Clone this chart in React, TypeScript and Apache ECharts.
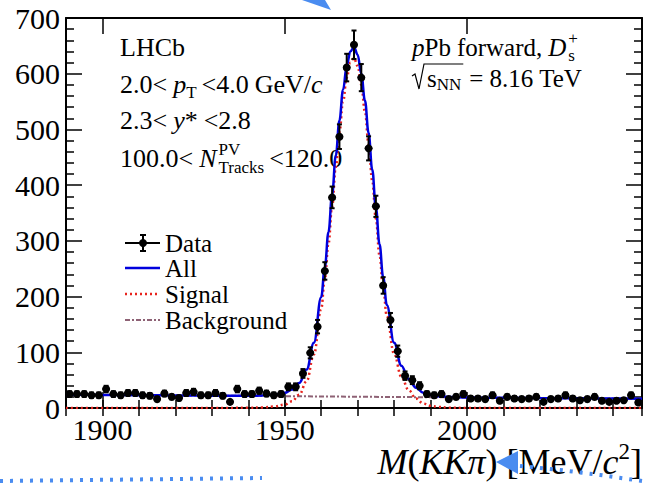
import React, { useEffect, useRef } from "react";
import * as echarts from "echarts";

const FONT = "'Liberation Serif','Times New Roman',Times,serif";

// Bin centres (2 MeV bins) and observed counts
const BIN_CENTERS = [
  1891, 1893, 1895, 1897, 1899, 1901, 1903, 1905, 1907, 1909, 1911, 1913, 1915, 1917, 1919, 1921,
  1923, 1925, 1927, 1929, 1931, 1933, 1935, 1937, 1939, 1941, 1943, 1945, 1947, 1949, 1951, 1953,
  1955, 1957, 1959, 1961, 1963, 1965, 1967, 1969, 1971, 1973, 1975, 1977, 1979, 1981, 1983, 1985,
  1987, 1989, 1991, 1993, 1995, 1997, 1999, 2001, 2003, 2005, 2007, 2009, 2011, 2013, 2015, 2017,
  2019, 2021, 2023, 2025, 2027, 2029, 2031, 2033, 2035, 2037, 2039, 2041, 2043, 2045, 2047,
];
const COUNTS = [
  25, 25, 25, 23, 23, 34, 25, 23, 27, 27, 23, 22, 16, 26, 20, 18,
  27, 29, 23, 23, 27, 22, 11, 34, 25, 25, 31, 26, 23, 25, 38, 38,
  62, 99, 146, 246, 378, 487, 611, 652, 593, 466, 362, 220, 158, 102, 58, 50,
  40, 25, 23, 25, 16, 20, 25, 17, 17, 16, 23, 13, 20, 17, 16, 17,
  20, 11, 16, 17, 23, 17, 14, 16, 20, 13, 11, 13, 14, 23, 10,
];

// Fit curves
const CURVE_X = [
  1890, 1900, 1910, 1920, 1930, 1940, 1944, 1947, 1950, 1952, 1954, 1956, 1958, 1960, 1961, 1962,
  1963, 1964, 1965, 1966, 1967, 1968, 1969, 1970, 1971, 1972, 1973, 1974, 1975, 1976, 1977, 1978,
  1980, 1982, 1984, 1986, 1988, 1990, 1992, 1995, 2000, 2010, 2020, 2030, 2040, 2048,
];
const ALL_Y = [
  24, 23.5, 23, 22.6, 22.1, 22, 22.4, 23.8, 27.2, 33.1, 45, 69, 117, 199, 253, 316,
  383, 453, 516, 571, 614, 640, 648, 634, 600, 552, 494, 428, 360, 294, 235, 185,
  117, 76, 52, 36.5, 27.4, 23.2, 21.1, 19.9, 18.8, 18.3, 17.8, 17.4, 16.9, 16.5,
];
const SIGNAL_Y = [
  0, 0, 0, 0, 0, 0.3, 1, 2.5, 6, 12, 24, 48, 96, 178, 232, 295,
  362, 432, 495, 550, 593, 620, 628, 614, 580, 532, 474, 408, 340, 274, 215, 165,
  97, 56, 32, 17, 8, 4, 2, 0.6, 0, 0, 0, 0, 0, 0,
];
const BKG_X = [1890, 1950, 2000, 2048];
const BKG_Y = [24, 21.2, 18.8, 16.5];

const X_MAJOR = [1900, 1950, 2000];
const LEGEND_LABELS = ["Data", "All", "Signal", "Background"];

const BLUE = "#0000dd";
const RED = "#e8231d";
const BROWN = "#8e6275";
const ART = "#4a8cf0";

let _ctx: CanvasRenderingContext2D | null = null;
function tw(t: string, sz: number, it?: boolean) {
  if (!_ctx) _ctx = document.createElement("canvas").getContext("2d");
  _ctx!.font = `${it ? "italic " : ""}${sz}px ${FONT}`;
  return _ctx!.measureText(t).width;
}

function txt(x: number, y: number, t: string, sz: number, it?: boolean) {
  return {
    type: "text",
    x,
    y,
    silent: true,
    style: {
      text: t,
      fontFamily: FONT,
      fontSize: sz,
      fontStyle: it ? "italic" : "normal",
      fill: "#000",
      align: "left",
      verticalAlign: "middle",
    },
  };
}

function layout(x0: number, y: number, segs: any[], size: number, alignRight = false) {
  const widths = segs.map((s) => {
    if (s.g !== undefined) return s.g;
    if (s.sup !== undefined) return Math.max(tw(s.sup, s.sz), tw(s.sub, s.sz));
    return tw(s.t, s.sz || size, s.it);
  });
  const total = widths.reduce((a, b) => a + b, 0);
  let x = alignRight ? x0 - total : x0;
  const els: any[] = [];
  segs.forEach((s, i) => {
    if (s.sup !== undefined) {
      els.push(txt(x, y + s.up, s.sup, s.sz));
      els.push(txt(x, y + s.down, s.sub, s.sz));
    } else if (s.t !== undefined) {
      els.push(txt(x, y + (s.dy || 0), s.t, s.sz || size, s.it));
    }
    x += widths[i];
  });
  return { els, end: x };
}

export default function App() {
  const ref = useRef<HTMLDivElement>(null);
  useEffect(() => {
    const chart = echarts.init(ref.current!, null, { renderer: "svg" });

    const S = 26;
    const l1 = layout(120, 47, [{ t: "LHCb" }], S);
    const l2 = layout(120, 84, [
      { t: "2.0<" }, { g: 6 }, { t: "p", it: true }, { t: "T", sz: 17, dy: 8 }, { g: 5 },
      { t: "<4.0" }, { g: 6 }, { t: "GeV/" }, { t: "c", it: true },
    ], S);
    const l3 = layout(120, 120, [
      { t: "2.3<" }, { g: 6 }, { t: "y", it: true }, { t: "*" }, { g: 6 }, { t: "<2.8" },
    ], S);
    const l4 = layout(120, 158, [
      { t: "100.0<" }, { g: 6 }, { t: "N", it: true }, { g: 2 },
      { sup: "PV", sub: "Tracks", sz: 17, up: -9, down: 9 }, { g: 5 }, { t: "<120.0" },
    ], S);
    const r1 = layout(412, 47, [
      { t: "p", it: true }, { t: "Pb" }, { g: 6 }, { t: "forward," }, { g: 6 },
      { t: "D", it: true }, { g: 2 }, { sup: "+", sub: "s", sz: 17, up: -9, down: 8 },
    ], 25);
    const r2 = layout(427, 78, [
      { t: "s" }, { t: "NN", sz: 17, dy: 6 }, { g: 8 }, { t: "=" }, { g: 6 }, { t: "8.16" }, { g: 6 }, { t: "TeV" },
    ], 25);
    const nnEnd = 427 + tw("s", 25) + tw("NN", 17) + 2;
    const title = layout(642, 462, [
      { t: "M", it: true }, { t: "(" }, { t: "K", it: true }, { t: "K", it: true }, { t: "π", it: true },
      { t: ")" }, { g: 9 }, { t: "[MeV/" }, { t: "c", it: true }, { t: "2", sz: 23, dy: -11 }, { t: "]" },
    ], 36, true);

    const legY = [243, 268, 294, 320];
    const legendEls: any[] = [
      { type: "line", shape: { x1: 125, y1: legY[0], x2: 160, y2: legY[0] }, style: { stroke: "#000", lineWidth: 2 } },
      { type: "line", shape: { x1: 143, y1: legY[0] - 8, x2: 143, y2: legY[0] + 8 }, style: { stroke: "#000", lineWidth: 2 } },
      { type: "line", shape: { x1: 140, y1: legY[0] - 8, x2: 146, y2: legY[0] - 8 }, style: { stroke: "#000", lineWidth: 2 } },
      { type: "line", shape: { x1: 140, y1: legY[0] + 8, x2: 146, y2: legY[0] + 8 }, style: { stroke: "#000", lineWidth: 2 } },
      { type: "circle", shape: { cx: 143, cy: legY[0], r: 4 }, style: { fill: "#000" } },
      { type: "line", shape: { x1: 125, y1: legY[1], x2: 160, y2: legY[1] }, style: { stroke: BLUE, lineWidth: 2.5 } },
      { type: "line", shape: { x1: 125, y1: legY[2], x2: 160, y2: legY[2] }, style: { stroke: RED, lineWidth: 2.5, lineDash: [2, 3] } },
      { type: "line", shape: { x1: 125, y1: legY[3], x2: 160, y2: legY[3] }, style: { stroke: BROWN, lineWidth: 2, lineDash: [5, 2, 2, 2] } },
      ...LEGEND_LABELS.map((lab, i) => txt(165, legY[i], lab, 25)),
    ];

    const artifacts: any[] = [
      { type: "polygon", shape: { points: [[302, 0], [325, 0], [331, 10]] }, style: { fill: ART } },
      { type: "polygon", shape: { points: [[496, 462], [518, 451], [518, 474]] }, style: { fill: ART } },
      { type: "polyline", shape: { points: [[520, 466], [560, 470], [600, 475], [642, 481]] }, style: { stroke: ART, lineWidth: 4, lineDash: [3, 7], fill: null } },
      { type: "polyline", shape: { points: [[0, 481], [262, 478]] }, style: { stroke: ART, lineWidth: 4, lineDash: [3, 7], fill: null } },
    ];

    const radical = {
      type: "polyline",
      shape: { points: [[412, 76], [415, 74], [419, 89], [424, 64], [nnEnd, 64]] },
      style: { stroke: "#000", lineWidth: 1.2, fill: null },
    };

    const axisCommon = {
      type: "value",
      min: 1890,
      max: 2048,
      splitLine: { show: false },
    };
    const blackLine = { color: "#000", width: 1.5 };
    const labelStyle = { fontSize: 30, fontFamily: FONT, color: "#000" };

    const option: any = {
      animation: false,
      backgroundColor: "#fff",
      grid: { left: 66, right: 4, top: 18, bottom: 76, containLabel: false },
      xAxis: [
        {
          ...axisCommon,
          position: "bottom",
          axisLine: { show: true, onZero: false, lineStyle: { color: "#000", width: 2 } },
          axisTick: { show: true, inside: true, length: 16, customValues: X_MAJOR, lineStyle: blackLine },
          axisLabel: { show: true, customValues: X_MAJOR, ...labelStyle, margin: 6, formatter: (v: number) => String(v) },
        },
        {
          ...axisCommon,
          position: "bottom",
          interval: 10,
          axisLine: { show: false },
          axisTick: { show: true, inside: true, length: 8, lineStyle: blackLine },
          axisLabel: { show: false },
        },
        {
          ...axisCommon,
          position: "top",
          axisLine: { show: true, onZero: false, lineStyle: { color: "#000", width: 2 } },
          axisTick: { show: true, inside: true, length: 16, customValues: X_MAJOR, lineStyle: blackLine },
          axisLabel: { show: false },
        },
        {
          ...axisCommon,
          position: "top",
          interval: 10,
          axisLine: { show: false },
          axisTick: { show: true, inside: true, length: 8, lineStyle: blackLine },
          axisLabel: { show: false },
        },
      ],
      yAxis: [
        {
          type: "value",
          position: "left",
          min: 0,
          max: 700,
          interval: 100,
          axisLine: { show: true, onZero: false, lineStyle: { color: "#000", width: 2 } },
          axisTick: { show: true, inside: true, length: 16, lineStyle: blackLine },
          minorTick: { show: true, splitNumber: 5, length: 8, lineStyle: blackLine },
          axisLabel: { show: true, ...labelStyle, margin: 6, formatter: (v: number) => String(v) },
          splitLine: { show: false },
        },
        {
          type: "value",
          position: "right",
          min: 0,
          max: 700,
          interval: 100,
          axisLine: { show: true, onZero: false, lineStyle: { color: "#000", width: 2 } },
          axisTick: { show: true, inside: true, length: 16, lineStyle: blackLine },
          minorTick: { show: true, splitNumber: 5, length: 8, lineStyle: blackLine },
          axisLabel: { show: false },
          splitLine: { show: false },
        },
      ],
      series: [
        {
          name: "Background",
          type: "line",
          xAxisIndex: 0,
          yAxisIndex: 0,
          showSymbol: false,
          data: BKG_X.map((x, i) => [x, BKG_Y[i]]),
          lineStyle: { color: BROWN, width: 2, type: [5, 2, 2, 2] },
          z: 2,
        },
        {
          name: "Signal",
          type: "line",
          xAxisIndex: 0,
          yAxisIndex: 0,
          showSymbol: false,
          smooth: 0.4,
          smoothMonotone: "x",
          data: CURVE_X.map((x, i) => [x, SIGNAL_Y[i]]),
          lineStyle: { color: RED, width: 2.5, type: [2, 3] },
          z: 3,
        },
        {
          name: "All",
          type: "line",
          xAxisIndex: 0,
          yAxisIndex: 0,
          showSymbol: false,
          smooth: 0.4,
          smoothMonotone: "x",
          data: CURVE_X.map((x, i) => [x, ALL_Y[i]]),
          lineStyle: { color: BLUE, width: 2.5 },
          z: 4,
        },
        {
          name: "Data",
          type: "custom",
          xAxisIndex: 0,
          yAxisIndex: 0,
          z: 5,
          data: BIN_CENTERS.map((x, i) => [x, COUNTS[i]]),
          renderItem: (params: any, api: any) => {
            const x = api.value(0);
            const y = api.value(1);
            const e = Math.sqrt(y);
            const c = api.coord([x, y]);
            const t = api.coord([x, y + e]);
            const b = api.coord([x, Math.max(0, y - e)]);
            const l = api.coord([x - 1, y]);
            const r = api.coord([x + 1, y]);
            const st = { stroke: "#000", lineWidth: 2 };
            return {
              type: "group",
              children: [
                { type: "line", shape: { x1: c[0], y1: t[1], x2: c[0], y2: b[1] }, style: st },
                { type: "line", shape: { x1: c[0] - 2.5, y1: t[1], x2: c[0] + 2.5, y2: t[1] }, style: st },
                { type: "line", shape: { x1: c[0] - 2.5, y1: b[1], x2: c[0] + 2.5, y2: b[1] }, style: st },
                { type: "line", shape: { x1: l[0], y1: c[1], x2: r[0], y2: c[1] }, style: st },
                { type: "circle", shape: { cx: c[0], cy: c[1], r: 4 }, style: { fill: "#000" } },
              ],
            };
          },
        },
      ],
      graphic: [
        ...l1.els, ...l2.els, ...l3.els, ...l4.els, ...r1.els, ...r2.els, radical, ...title.els,
        ...legendEls, ...artifacts,
      ],
    };

    chart.setOption(option);
    return () => chart.dispose();
  }, []);

  return (
    <div
      ref={ref}
      style={{ position: "fixed", left: 0, top: 0, width: 646, height: 484, background: "#fff" }}
    />
  );
}
